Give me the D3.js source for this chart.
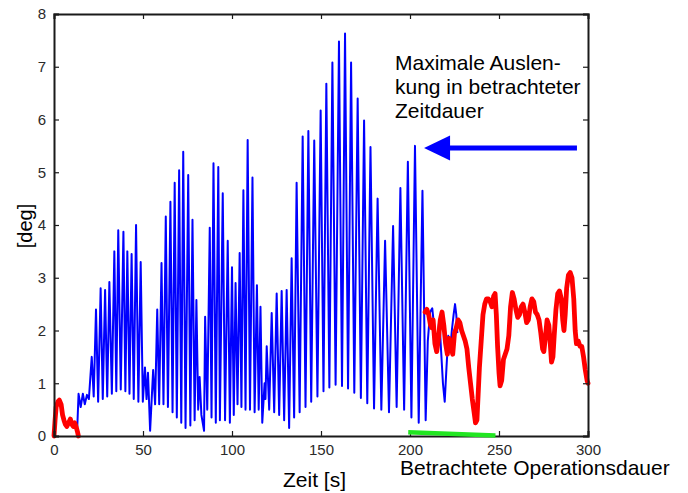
<!DOCTYPE html>
<html><head><meta charset="utf-8">
<script src="https://cdn.jsdelivr.net/npm/d3@7"></script>
<style>
html,body{margin:0;padding:0;background:#fff;}
svg{display:block;}
text{font-family:"Liberation Sans",Arial,Helvetica,sans-serif;}
</style></head>
<body>
<script>
// ---------- data ----------
const xTicks = [0, 50, 100, 150, 200, 250, 300];
const yTicks = [0, 1, 2, 3, 4, 5, 6, 7, 8];
const xLabel = "Zeit [s]";
const yLabel = "[deg]";
const noteLines = ["Maximale Auslen-", "kung in betrachteter", "Zeitdauer"];
const durationLabel = "Betrachtete Operationsdauer";

// blue signal (time s, deflection deg)
const blueSignal = [
 [13.0,0.10],[13.8,0.80],[15.0,0.55],[16.2,0.80],[17.3,0.60],[18.5,0.78],[19.6,0.70],[21.2,1.50],[22.3,0.75],[23.6,2.40],[24.8,0.65],[26.2,2.80],[27.4,0.70],[28.7,2.77],[29.9,0.75],[31.1,2.92],[32.5,0.80],[33.9,3.50],[35.0,0.85],[36.1,3.90],[37.5,0.88],[39.0,3.87],[40.1,0.85],[41.2,3.50],[42.4,0.80],[43.6,3.45],[44.8,0.70],[46.1,4.00],[47.4,0.65],[48.7,3.30],[49.9,0.65],[51.1,1.30],[52.0,0.70],[52.8,1.20],[54.0,0.10],
 [55.7,1.25],[56.8,0.60],[58.0,2.40],[59.1,0.60],[60.4,3.28],[61.5,0.60],[62.8,4.16],[64.0,0.55],[65.4,4.44],[66.6,0.45],[67.8,4.80],[69.0,0.35],[70.3,5.04],[71.5,0.25],[72.6,5.39],[73.9,0.15],[75.4,4.95],[76.6,0.20],[77.8,4.10],[79.0,0.30],[80.0,2.58],[81.0,0.50],[81.8,1.12],[82.8,0.40],[84.3,0.10],
 [84.9,2.26],[86.1,0.50],[87.5,3.95],[88.5,0.35],[89.6,5.17],[90.9,0.25],[92.3,5.10],[93.2,0.30],[94.8,4.60],[96.1,0.30],[97.6,3.70],[98.8,0.25],[100.0,3.20],[101.0,0.40],[102.0,2.90],[103.1,0.60],[104.3,3.47],[105.3,0.55],[106.4,4.66],[107.6,0.50],[108.8,5.61],[110.1,0.50],[111.5,4.90],[112.7,0.45],[114.0,2.86],[115.0,0.50],[116.0,2.45],[117.0,0.25],
 [118.3,1.00],[118.8,0.70],[119.5,1.70],[120.9,0.50],[122.3,2.33],[123.7,0.45],[125.1,2.70],[126.5,0.40],[127.9,2.75],[129.3,0.30],[130.7,2.77],[132.1,0.15],[133.5,3.37],[134.9,0.35],[136.3,4.80],[138.0,0.45],[139.7,5.68],[141.3,0.55],[142.9,5.78],[144.5,0.65],[146.2,5.60],[148.0,0.75],[149.8,6.17],[151.4,0.85],[153.0,6.68],[154.7,0.92],[156.4,7.08],[158.2,0.97],[160.1,7.48],[161.8,0.95],[163.5,7.63],[165.2,0.90],[166.9,7.08],[168.7,0.82],[170.6,6.40],[172.4,0.72],[174.2,5.98],[176.0,0.62],[177.8,5.48],[179.8,0.52],[181.8,4.50],[183.9,0.50],[186.0,3.70],[188.2,0.45],[190.5,3.98],[192.5,0.55],[194.6,4.70],[196.7,0.50],[198.8,5.20],[200.8,0.35],[202.8,5.50],[204.9,0.25],[207.0,4.65],[208.8,0.30],
 [210.0,1.80],[211.3,2.35],[212.5,2.42],[213.5,2.10],[214.5,1.60],[215.5,1.90],[216.5,2.20],[217.5,1.60],[218.5,1.00],[219.5,0.65],[220.5,1.30],[221.5,1.90],[222.5,1.60],[223.5,2.00],[224.5,2.30],[225.3,2.50],[226.0,2.30],[226.6,1.95]
];

// red signal, start segment
const redStart = [
 [0,0],[0.6,0.3],[1.2,0.55],[2.2,0.65],[3.0,0.68],[4.0,0.6],[4.8,0.4],[5.6,0.3],[6.4,0.22],[7.2,0.18],[8.2,0.25],[9.2,0.32],[10.0,0.22],[10.9,0.18],[11.6,0.25],[12.4,0.18],[13.2,0.08],[13.7,0.0]
];
// red signal, end segment
const redEnd = [
 [208.5,2.35],[209.5,2.4],[210.5,2.3],[211.5,2.1],[212.3,2.05],[213.0,2.2],[214.0,1.75],[215.0,1.6],[216.0,1.85],[217.0,2.2],[218.0,2.35],[219.0,2.1],[220.0,1.75],[221.0,1.55],[222.0,1.85],[223.0,1.7],[224.0,1.55],[225.0,1.95],[226.0,2.05],[227.0,2.2],[228.0,2.15],[229.0,2.0],[230.0,1.9],[231.0,1.8],[232.0,1.65],[233.0,1.3],[234.0,1.0],[235.0,0.7],[236.0,0.45],[236.8,0.25],[237.6,0.3],[238.3,0.8],[239.0,1.3],[240.0,1.8],[241.0,2.3],[242.0,2.5],[243.0,2.6],[244.0,2.6],[245.0,2.55],[246.0,2.45],[247.0,2.65],[247.8,2.7],[248.5,2.3],[249.2,1.7],[250.0,1.2],[250.6,0.95],[251.5,1.05],[252.5,1.45],[253.5,1.55],[254.5,1.65],[255.5,1.9],[256.5,2.45],[257.5,2.72],[258.5,2.6],[259.5,2.4],[260.5,2.25],[261.5,2.3],[262.5,2.45],[263.5,2.5],[264.5,2.35],[265.5,2.15],[266.5,2.2],[267.5,2.45],[268.5,2.6],[269.5,2.55],[270.5,2.35],[271.5,2.3],[272.5,2.2],[273.5,1.95],[274.5,1.65],[275.2,1.6],[276.0,1.85],[277.0,2.2],[278.0,2.1],[278.8,1.75],[279.5,1.4],[280.3,1.5],[281.0,1.9],[282.0,2.4],[283.0,2.7],[284.0,2.75],[285.0,2.6],[285.8,2.2],[286.5,2.0],[287.2,2.3],[288.0,2.8],[289.0,3.05],[290.0,3.1],[291.0,3.0],[292.0,2.6],[292.8,2.0],[293.5,1.75],[294.5,1.8],[295.5,1.7],[296.5,1.7],[297.5,1.5],[298.5,1.25],[299.5,1.05],[300.0,1.0]
];
// green duration bar
const durationBar = [[199,0.07],[248,0.01]];
// annotation arrow (tail -> tip), data units
const arrowTail = [293.8, 5.46];
const arrowTip = [207.9, 5.46];

// ---------- layout ----------
const W = 688, H = 493;
const L = 54, R = 588, T = 14, B = 436;
const svg = d3.select("body").append("svg").attr("width", W).attr("height", H);
const x = d3.scaleLinear().domain([0, 300]).range([L, R]);
const y = d3.scaleLinear().domain([0, 8]).range([B, T]);

const line = d3.line().x(d => x(d[0])).y(d => y(d[1]));

// blue
svg.append("path").datum(blueSignal).attr("d", line)
  .attr("fill", "none").attr("stroke", "#0000ff").attr("stroke-width", 2)
  .attr("stroke-linejoin", "round");

// red
[redStart, redEnd].forEach(seg => {
  svg.append("path").datum(seg).attr("d", line)
    .attr("fill", "none").attr("stroke", "#ff0000").attr("stroke-width", 4.8)
    .attr("stroke-linejoin", "round").attr("stroke-linecap", "round");
});

// axes (box with inward ticks)
const axisColor = "#1a1a1a";
const gB = svg.append("g").attr("transform", `translate(0,${B})`)
  .call(d3.axisBottom(x).tickValues(xTicks).tickSize(-5).tickPadding(8).tickFormat(d3.format("d")));
const gT = svg.append("g").attr("transform", `translate(0,${T})`)
  .call(d3.axisTop(x).tickValues(xTicks).tickSize(-5).tickFormat(""));
const gL = svg.append("g").attr("transform", `translate(${L},0)`)
  .call(d3.axisLeft(y).tickValues(yTicks).tickSize(-5).tickPadding(8).tickFormat(d3.format("d")));
const gR = svg.append("g").attr("transform", `translate(${R},0)`)
  .call(d3.axisRight(y).tickValues(yTicks).tickSize(-5).tickFormat(""));
[gB, gT, gL, gR].forEach(g => {
  g.select(".domain").attr("stroke", axisColor).attr("stroke-width", 2);
  g.selectAll(".tick line").attr("stroke", axisColor).attr("stroke-width", 1.2);
  g.selectAll("text").attr("fill", "#2a2a2a").style("font-size", "15px")
    .style("font-family", "'Liberation Sans', Arial, sans-serif");
});

// green bar
svg.append("path").datum(durationBar).attr("d", line)
  .attr("fill", "none").attr("stroke", "#22e622").attr("stroke-width", 4.5);

// labels
svg.append("text").attr("x", 283).attr("y", 487).attr("font-size", 21).attr("fill", "#000").text(xLabel);
svg.append("text").attr("transform", "translate(32,226) rotate(-90)")
  .attr("text-anchor", "middle").attr("font-size", 20).attr("fill", "#000").text(yLabel);
svg.append("text").attr("x", 400).attr("y", 475).attr("font-size", 21).attr("fill", "#000").text(durationLabel);

const note = svg.append("text").attr("font-size", 21).attr("fill", "#000");
noteLines.forEach((s, i) => note.append("tspan").attr("x", 395).attr("y", 70 + i * 24).text(s));

// arrow
const ax0 = x(arrowTail[0]), ay = y(arrowTail[1]), ax1 = x(arrowTip[0]);
svg.append("line").attr("x1", ax0).attr("y1", ay).attr("x2", ax1 + 24).attr("y2", ay)
  .attr("stroke", "#0000ff").attr("stroke-width", 5);
svg.append("path")
  .attr("d", `M${ax1},${ay} L${ax1 + 26},${ay - 12.5} L${ax1 + 26},${ay + 12.5} Z`)
  .attr("fill", "#0000ff");
</script>
</body></html>
